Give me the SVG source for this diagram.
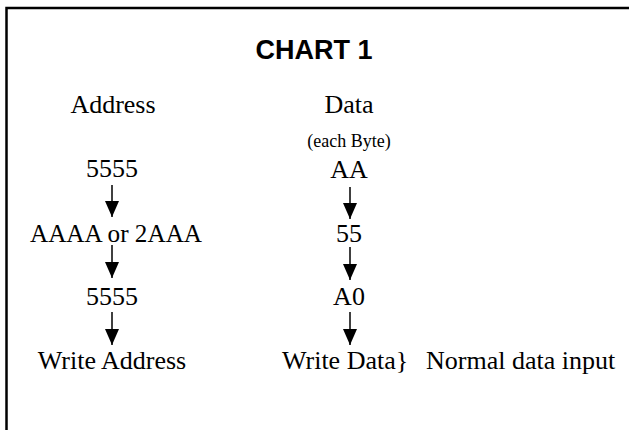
<svg xmlns="http://www.w3.org/2000/svg" width="629" height="430" viewBox="0 0 629 430">
<style>
.t{font-family:"Liberation Serif","Times New Roman",serif;font-size:26px;fill:#000}
.s{font-size:18px}
.ttl{font-family:"Liberation Sans",Arial,sans-serif;font-size:27px;font-weight:bold;fill:#000}
.c{stroke:#000;stroke-width:1.5;fill:none}
</style>
<defs>
<marker id="ah" markerUnits="userSpaceOnUse" markerWidth="16" markerHeight="14" refX="16" refY="7" orient="auto" viewBox="0 0 16 14">
<path d="M0,0 L16,7 L0,14 Z" fill="#000"/>
</marker>
</defs>
<rect width="629" height="430" fill="#fff"/>
<path d="M6.5,430 V8 H629" stroke="#000" stroke-width="2.5" fill="none"/>
<text class="ttl" x="314" y="59" text-anchor="middle">CHART 1</text>
<g id="hdr-address"><text class="t" x="113" y="113" text-anchor="middle">Address</text></g>
<g id="hdr-data"><text class="t" x="349" y="113" text-anchor="middle">Data</text><text class="t s" x="349" y="147" text-anchor="middle">(each Byte)</text></g>
<g id="a1"><text class="t" x="112" y="177" text-anchor="middle">5555</text></g>
<g id="a2"><text class="t" x="116" y="242" text-anchor="middle" textLength="172" lengthAdjust="spacingAndGlyphs">AAAA or 2AAA</text></g>
<g id="a3"><text class="t" x="112" y="305" text-anchor="middle">5555</text></g>
<g id="a4"><text class="t" x="112" y="369" text-anchor="middle">Write  Address</text></g>
<g id="d1"><text class="t" x="349" y="178" text-anchor="middle">AA</text></g>
<g id="d2"><text class="t" x="349" y="242" text-anchor="middle">55</text></g>
<g id="d3"><text class="t" x="349" y="305" text-anchor="middle">A0</text></g>
<g id="d4"><text class="t" x="282" y="369">Write Data}</text></g>
<g id="note"><text class="t" x="426" y="369">Normal data input</text></g>
<g id="connectors">
<path class="c" d="M112,185 V217" marker-end="url(#ah)"/>
<path class="c" d="M112,245 V278" marker-end="url(#ah)"/>
<path class="c" d="M112,312 V345" marker-end="url(#ah)"/>
<path class="c" d="M350,187 V219" marker-end="url(#ah)"/>
<path class="c" d="M350,247 V280" marker-end="url(#ah)"/>
<path class="c" d="M350,312 V345" marker-end="url(#ah)"/>
</g>
</svg>
